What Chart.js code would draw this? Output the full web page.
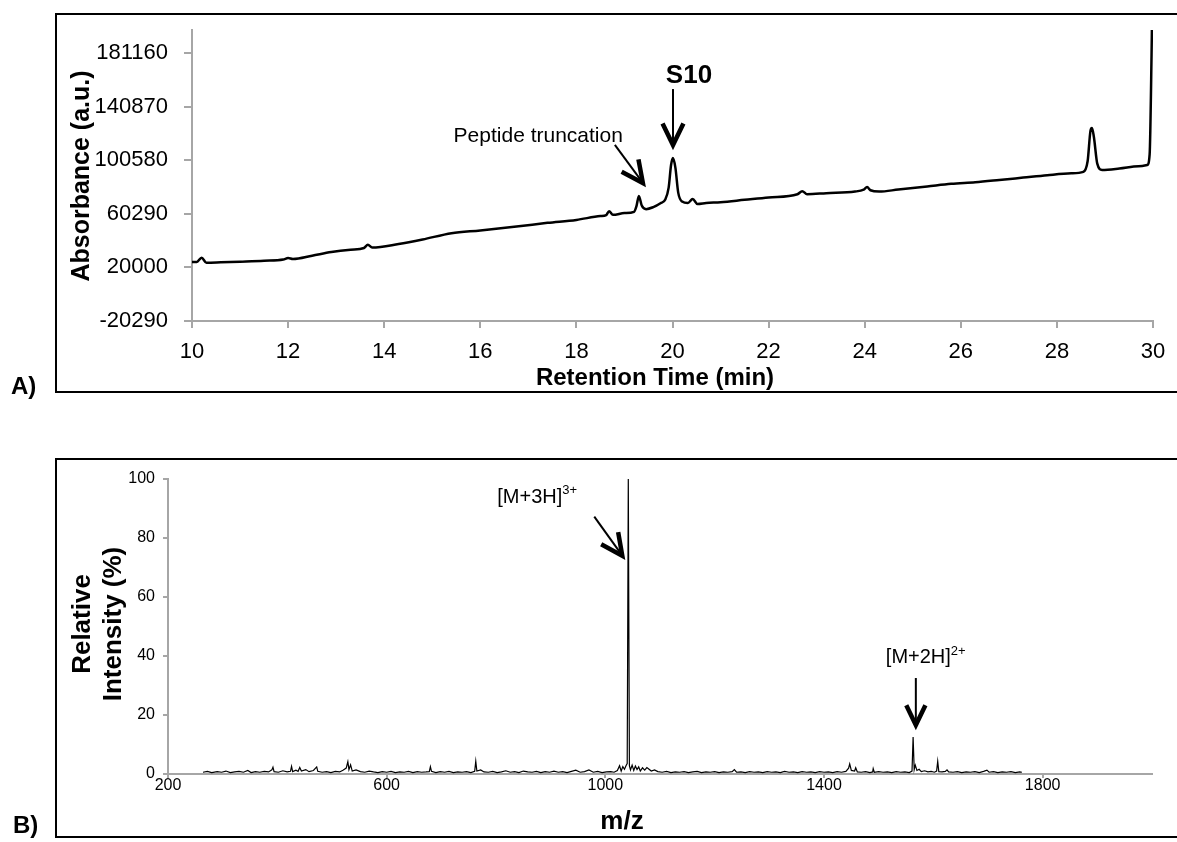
<!DOCTYPE html>
<html>
<head>
<meta charset="utf-8">
<script src="https://cdn.jsdelivr.net/npm/chart.js@4.4.1/dist/chart.umd.min.js"></script>
<style>
	html, body { margin: 0; padding: 0; background: #fff; }
	#wrap { position: relative; width: 1177px; height: 842px; overflow: hidden; }
	canvas { position: absolute; left: 0; }
	#hplc { top: 0; }
	#ms { top: 420px; }
</style>
</head>
<body>
<div id="wrap">
	<canvas id="hplc" width="1177" height="420"></canvas>
	<canvas id="ms" width="1177" height="422"></canvas>
</div>
<script>
// A) HPLC trace
var retTime = [10.00, 10.10, 10.20, 10.30, 10.60, 11.00, 11.50, 11.90, 12.00, 12.10,
	12.50, 12.90, 13.30, 13.58, 13.66, 13.75, 14.30, 14.80, 15.40, 16.00,
	16.80, 17.40, 18.00, 18.50, 18.62, 18.68, 18.76, 19.00, 19.20, 19.25,
	19.30, 19.36, 19.45, 19.60, 19.75, 19.85, 19.92, 19.97, 20.01, 20.06,
	20.12, 20.20, 20.32, 20.42, 20.52, 20.70, 21.00, 21.50, 22.00, 22.60,
	22.70, 22.80, 23.20, 23.80, 23.98, 24.05, 24.12, 24.30, 24.70, 25.30,
	25.80, 26.30, 26.80, 27.30, 27.80, 28.30, 28.55, 28.64, 28.70, 28.73,
	28.77, 28.84, 28.94, 29.30, 29.70, 29.88, 29.93, 29.97, 30.00];
var absorbance = [24060, 24100, 27300, 23500, 23800, 24300, 25000, 25900, 27000, 26300,
	28800, 31500, 33300, 34600, 37000, 34900, 37600, 41000, 45700, 47800,
	50900, 53500, 55700, 58600, 59300, 62300, 59500, 60800, 61800, 66000,
	73700, 66500, 63800, 65300, 68200, 71000, 80000, 97000, 102200, 95000,
	76000, 69500, 68400, 71400, 67700, 68400, 69000, 70800, 72600, 75000,
	77300, 75000, 75800, 77000, 78500, 80400, 78000, 77000, 78500, 80800,
	82800, 84000, 85700, 87500, 89300, 90700, 91800, 100000, 123000, 124800,
	118000, 98000, 93300, 94300, 96000, 97000, 105000, 180000, 260000];
var retTicks = [10, 12, 14, 16, 18, 20, 22, 24, 26, 28, 30];
var absTicks = [-20290, 20000, 60290, 100580, 140870, 181160];

// B) mass spectrum
var msMz = [264, 272, 280, 290, 298, 306, 314, 322, 330, 338, 346, 352, 360, 368, 376, 384, 390, 392, 394, 402,
	410, 418, 424, 426, 428, 434, 438, 441, 444, 452, 458, 466, 472, 474, 482, 490, 498, 506, 514, 520,
	526, 529, 531, 534, 537, 544, 552, 560, 568, 576, 584, 592, 600, 608, 616, 624, 632, 640, 648, 656,
	664, 672, 678, 680, 682, 690, 698, 706, 714, 722, 730, 738, 746, 754, 761, 763, 765, 772, 778, 786,
	794, 802, 810, 818, 826, 834, 842, 850, 858, 866, 874, 882, 890, 898, 906, 914, 922, 930, 938, 946,
	954, 962, 970, 978, 986, 994, 1002, 1010, 1016, 1022, 1026, 1029, 1032, 1035, 1038, 1040, 1042, 1044, 1046, 1049,
	1052, 1055, 1058, 1061, 1064, 1068, 1072, 1076, 1080, 1084, 1090, 1096, 1104, 1112, 1120, 1128, 1136, 1144, 1152, 1160,
	1168, 1176, 1184, 1192, 1200, 1208, 1216, 1224, 1232, 1236, 1240, 1248, 1256, 1264, 1272, 1280, 1288, 1296, 1304, 1312,
	1320, 1328, 1336, 1344, 1352, 1360, 1368, 1376, 1384, 1392, 1400, 1408, 1416, 1424, 1432, 1440, 1445, 1447, 1450, 1456,
	1458, 1461, 1468, 1476, 1484, 1489, 1490, 1492, 1500, 1508, 1516, 1524, 1532, 1540, 1548, 1556, 1561, 1563, 1565, 1567,
	1570, 1574, 1578, 1584, 1590, 1596, 1602, 1606, 1608, 1610, 1616, 1622, 1625, 1628, 1636, 1644, 1652, 1660, 1668, 1676,
	1684, 1692, 1698, 1702, 1710, 1718, 1726, 1734, 1742, 1750, 1758, 1762];
var msIntensity = [0.6, 0.9, 0.5, 0.8, 0.6, 1.0, 0.5, 0.7, 0.9, 0.6, 1.2, 0.5, 0.8, 0.6, 0.9, 0.7, 1.4, 2.3, 0.8, 0.6,
	1.1, 0.7, 0.9, 2.6, 0.8, 1.3, 0.9, 2.2, 1.0, 1.5, 0.8, 1.2, 2.4, 0.9, 0.6, 0.8, 0.5, 0.9, 0.7, 1.3,
	2.0, 4.2, 1.5, 3.1, 1.0, 1.4, 0.8, 0.6, 1.0, 0.7, 0.5, 0.8, 0.6, 0.9, 0.5, 0.7, 0.6, 0.9, 0.5, 0.8,
	0.6, 0.7, 0.8, 2.5, 0.9, 0.5, 0.8, 0.6, 0.9, 0.5, 0.7, 0.6, 0.8, 0.5, 0.9, 4.3, 1.0, 1.4, 0.7, 0.6,
	0.9, 0.5, 0.7, 1.1, 0.6, 0.8, 0.5, 1.0, 0.7, 0.6, 0.9, 0.5, 0.8, 0.6, 1.0, 0.6, 0.8, 0.5, 0.9, 1.3,
	0.6, 0.8, 1.4, 0.6, 0.9, 0.5, 0.7, 0.8, 0.6, 1.2, 2.8, 1.0, 2.5, 1.6, 2.9, 3.5, 100, 2.8, 1.4, 3.0,
	1.2, 2.7, 1.5, 2.4, 1.0, 2.1, 1.3, 2.2, 1.6, 1.0, 1.4, 0.8, 0.6, 0.9, 0.5, 0.7, 0.6, 0.8, 0.5, 0.7,
	0.9, 0.5, 0.7, 0.6, 0.8, 0.5, 0.7, 0.6, 0.8, 1.5, 0.6, 0.7, 0.5, 0.8, 0.6, 0.7, 0.5, 0.8, 0.6, 0.7,
	0.5, 0.9, 0.6, 0.7, 0.5, 0.8, 0.6, 0.7, 0.5, 0.8, 0.6, 0.7, 0.5, 0.8, 0.6, 0.9, 2.0, 3.4, 1.2, 1.0,
	2.1, 0.7, 0.6, 0.8, 0.5, 0.7, 1.8, 0.6, 0.8, 0.6, 0.7, 0.5, 0.8, 0.6, 0.7, 0.5, 1.0, 12.5, 1.5, 3.0,
	1.2, 1.6, 0.8, 1.1, 0.7, 0.9, 0.6, 1.0, 4.3, 0.8, 0.7, 0.9, 1.4, 0.7, 0.6, 0.8, 0.5, 0.7, 0.6, 0.8,
	0.5, 0.9, 1.3, 0.6, 0.8, 0.5, 0.7, 0.6, 0.8, 0.5, 0.7, 0.6];
var mzTicks = [200, 600, 1000, 1400, 1800];
var intensityTicks = [0, 20, 40, 60, 80, 100];

var FONT = "'Liberation Sans', Arial, Helvetica, sans-serif";
var AXIS_GREY = "#a6a6a6";

function points(xs, ys) {
	return xs.map(function (x, i) {
		return { x: x, y: ys[i] };
	});
}

function fixedTicks(values) {
	return function (scale) {
		scale.ticks = values.map(function (v) {
			return { value: v };
		});
	};
}

function axis(opts) {
	return {
		type: "linear",
		min: opts.min,
		max: opts.max,
		afterBuildTicks: fixedTicks(opts.ticks),
		afterFit: function (scale) {
			if (opts.width) scale.width = opts.width;
			if (opts.height) scale.height = opts.height;
			scale.paddingLeft = scale.paddingRight = 0;
			scale.paddingTop = scale.paddingBottom = 0;
		},
		grid: {
			drawOnChartArea: false,
			drawTicks: true,
			tickLength: opts.tickLength,
			color: AXIS_GREY,
			lineWidth: 2,
		},
		border: { display: true, color: AXIS_GREY, width: 2 },
		ticks: {
			color: "#000",
			padding: opts.padding,
			autoSkip: false,
			maxRotation: 0,
			font: { family: FONT, size: opts.fontSize, lineHeight: 1 },
			callback: function (v) {
				return String(v);
			},
		},
	};
}

function frame(ctx, top, bottom) {
	ctx.strokeStyle = "#000";
	ctx.lineWidth = 2;
	ctx.beginPath();
	ctx.moveTo(1177, top);
	ctx.lineTo(56, top);
	ctx.lineTo(56, bottom);
	ctx.lineTo(1177, bottom);
	ctx.stroke();
}

function text(ctx, str, x, y, font, align) {
	ctx.font = font;
	ctx.textAlign = align || "left";
	ctx.textBaseline = "alphabetic";
	ctx.fillStyle = "#000";
	ctx.fillText(str, x, y);
}

function vtext(ctx, str, baseX, cy, font) {
	ctx.save();
	ctx.translate(baseX, cy);
	ctx.rotate(-Math.PI / 2);
	text(ctx, str, 0, 0, font, "center");
	ctx.restore();
}

function supText(ctx, base, sup, x, y, rise) {
	text(ctx, base, x, y, "20px " + FONT);
	var w = ctx.measureText(base).width;
	text(ctx, sup, x + w, y - rise, "13px " + FONT);
}

// arrow from a tail offset (dx, dy) to the tip
function arrow(ctx, tip, dx, dy, head) {
	var a = Math.atan2(-dy, -dx);
	var spread = 0.45;
	ctx.strokeStyle = "#000";
	ctx.lineCap = "butt";
	ctx.lineWidth = 2;
	ctx.beginPath();
	ctx.moveTo(tip.x + dx, tip.y + dy);
	ctx.lineTo(tip.x, tip.y);
	ctx.stroke();
	ctx.lineWidth = 4.5;
	ctx.lineJoin = "miter";
	ctx.beginPath();
	ctx.moveTo(tip.x - head * Math.cos(a - spread), tip.y - head * Math.sin(a - spread));
	ctx.lineTo(tip.x, tip.y);
	ctx.lineTo(tip.x - head * Math.cos(a + spread), tip.y - head * Math.sin(a + spread));
	ctx.stroke();
}

var hplcOverlay = {
	id: "hplcOverlay",
	afterDraw: function (chart) {
		var ctx = chart.ctx;
		var x = chart.scales.x;
		var y = chart.scales.y;
		ctx.save();
		frame(ctx, 14, 392);
		text(ctx, "A)", 11, 394, "bold 24px " + FONT);
		vtext(ctx, "Absorbance (a.u.)", 89, 176, "bold 25px " + FONT);
		text(ctx, "Retention Time (min)", 655, 385, "bold 24px " + FONT, "center");

		var s10 = { x: x.getPixelForValue(20.01), y: y.getPixelForValue(102200) - 13 };
		arrow(ctx, s10, 0, -56, 24);
		text(ctx, "S10", s10.x + 16, s10.y - 62, "bold 26px " + FONT, "center");

		var trunc = { x: x.getPixelForValue(19.3) + 4, y: y.getPixelForValue(73700) - 13 };
		arrow(ctx, trunc, -28, -38, 24);
		text(ctx, "Peptide truncation", trunc.x - 20, trunc.y - 41, "21px " + FONT, "right");
		ctx.restore();
	},
};

var msOverlay = {
	id: "msOverlay",
	afterDraw: function (chart) {
		var ctx = chart.ctx;
		var x = chart.scales.x;
		var y = chart.scales.y;
		ctx.save();
		frame(ctx, 39, 417);
		text(ctx, "B)", 13, 413, "bold 24px " + FONT);
		vtext(ctx, "Relative", 90, 204, "bold 26px " + FONT);
		vtext(ctx, "Intensity (%)", 121, 204, "bold 26px " + FONT);
		text(ctx, "m/z", 622, 409, "bold 26px " + FONT, "center");

		var tri = { x: x.getPixelForValue(1031), y: y.getPixelForValue(74) };
		arrow(ctx, tri, -28, -39, 24);
		supText(ctx, "[M+3H]", "3+", tri.x - 125, tri.y - 53, 8.5);

		var di = { x: x.getPixelForValue(1568), y: y.getPixelForValue(16.6) };
		arrow(ctx, di, 0, -47, 22);
		supText(ctx, "[M+2H]", "2+", di.x - 30, di.y - 62, 8);
		ctx.restore();
	},
};

new Chart(document.getElementById("hplc"), {
	type: "line",
	data: {
		datasets: [
			{
				data: points(retTime, absorbance),
				borderColor: "#000",
				borderWidth: 2.5,
				pointRadius: 0,
				tension: 0.4,
				cubicInterpolationMode: "monotone",
			},
		],
	},
	options: {
		responsive: false,
		animation: false,
		layout: { padding: { left: 92, top: 30, right: 24, bottom: 39 } },
		plugins: { legend: { display: false }, tooltip: { enabled: false } },
		scales: {
			x: axis({ min: 10, max: 30, ticks: retTicks, height: 60, tickLength: 7, padding: 13, fontSize: 22 }),
			y: axis({ min: -20290, max: 198450, ticks: absTicks, width: 100, tickLength: 8, padding: 16, fontSize: 22 }),
		},
	},
	plugins: [hplcOverlay],
});

new Chart(document.getElementById("ms"), {
	type: "line",
	data: {
		datasets: [
			{
				data: points(msMz, msIntensity),
				borderColor: "#000",
				borderWidth: 1.2,
				pointRadius: 0,
				tension: 0,
			},
		],
	},
	options: {
		responsive: false,
		animation: false,
		layout: { padding: { left: 68, top: 59, right: 25, bottom: 8 } },
		plugins: { legend: { display: false }, tooltip: { enabled: false } },
		scales: {
			x: axis({ min: 200, max: 2000, ticks: mzTicks, height: 60, tickLength: 4, padding: 0, fontSize: 16 }),
			y: axis({ min: 0, max: 100, ticks: intensityTicks, width: 100, tickLength: 5, padding: 8, fontSize: 16 }),
		},
	},
	plugins: [msOverlay],
});
</script>
</body>
</html>
